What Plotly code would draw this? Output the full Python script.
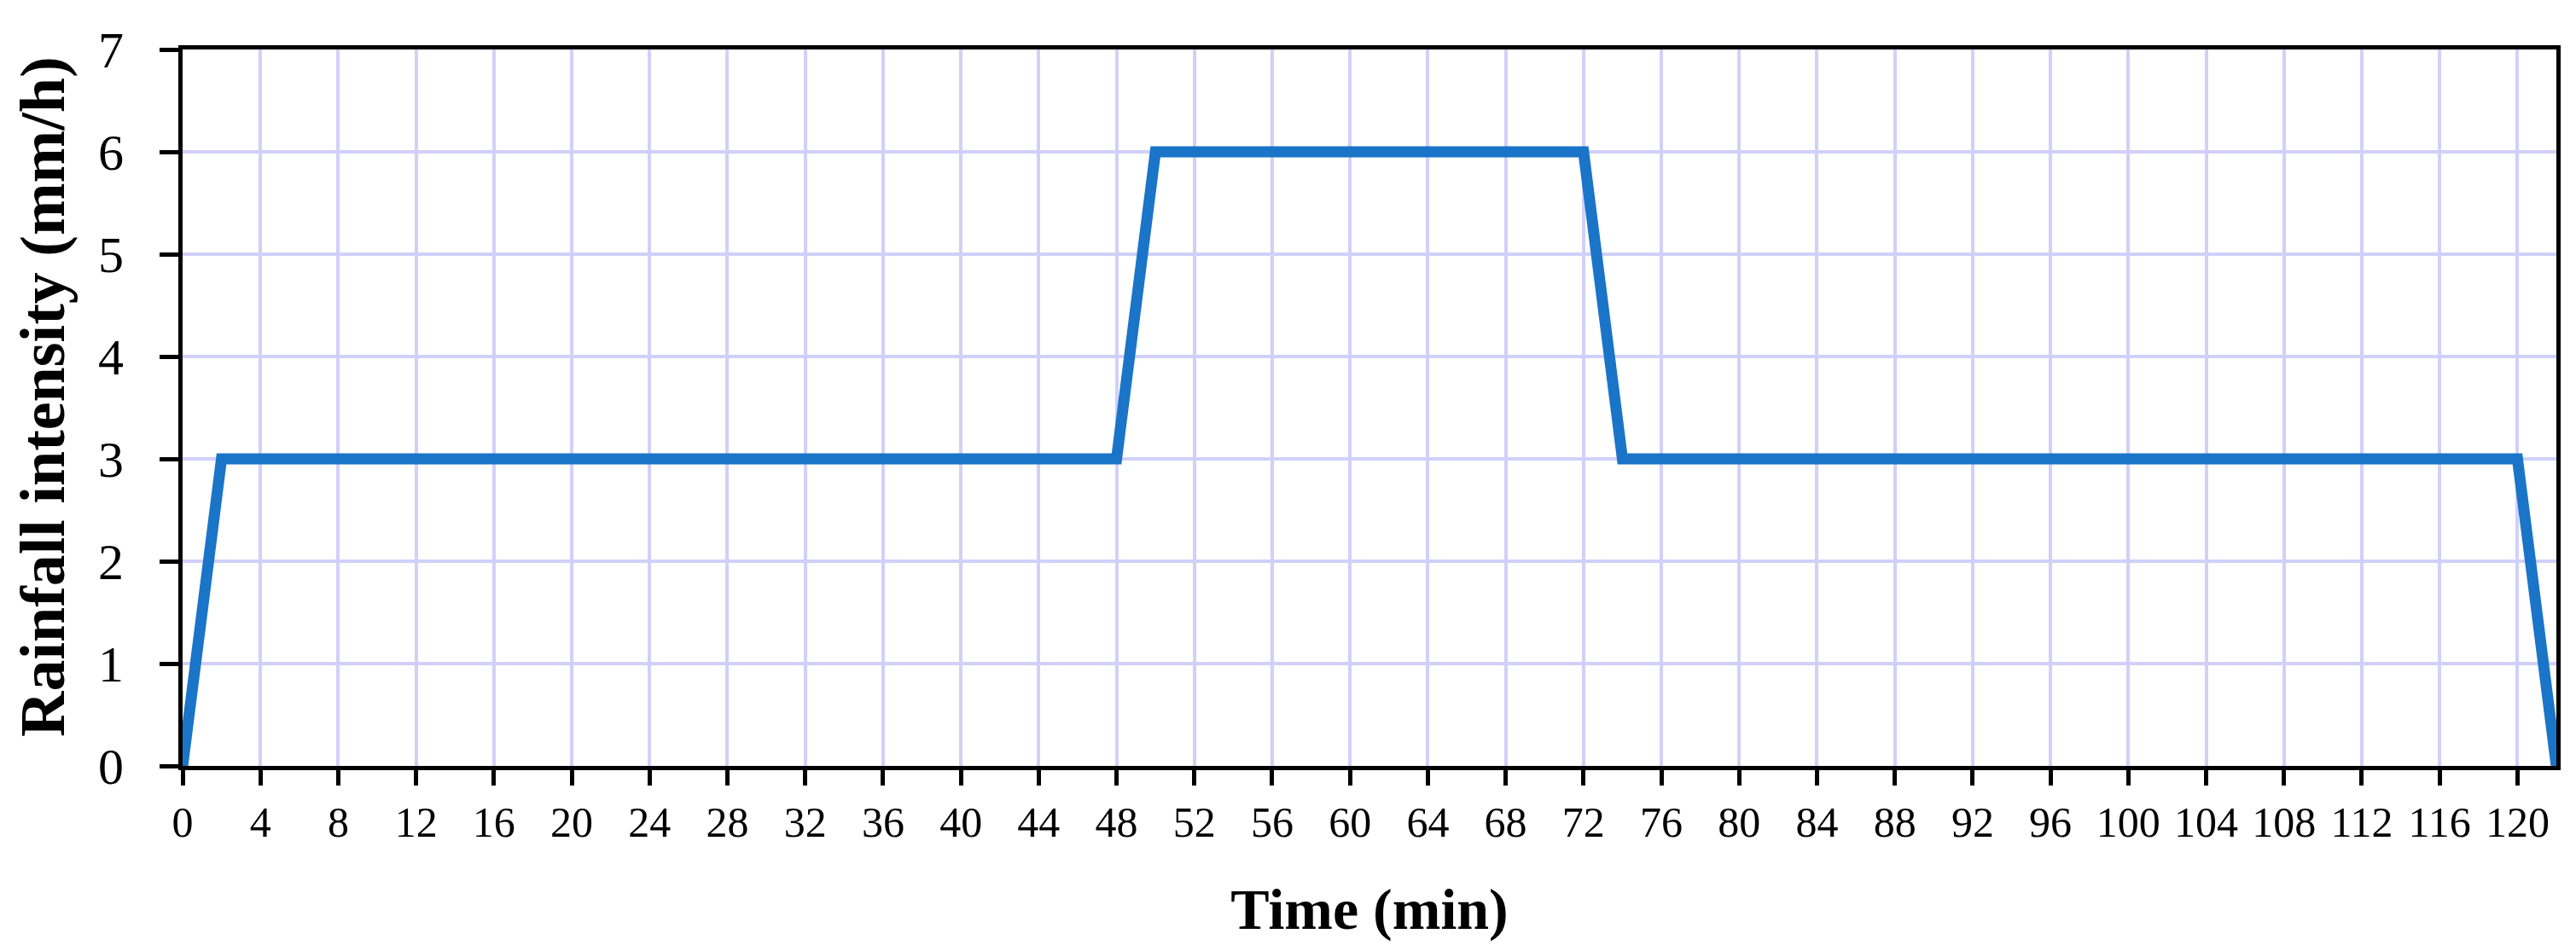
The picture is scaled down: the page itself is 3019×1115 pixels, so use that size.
import plotly.graph_objects as go

# Data
time_min = [0, 2, 48, 50, 72, 74, 120, 122]
intensity = [0, 3, 3, 6, 6, 3, 3, 0]
x_ticks = list(range(0, 121, 4))
y_ticks = list(range(0, 8))

FONT = "Liberation Serif"
GRID = "#D0D0FA"

fig = go.Figure()
fig.add_trace(go.Scatter(
    x=time_min, y=intensity, mode="lines",
    line=dict(color="#1A74C8", width=13),
    showlegend=False, hoverinfo="skip",
))

fig.update_layout(
    width=3019, height=1115,
    margin=dict(l=206, r=31, t=50, b=225),
    paper_bgcolor="white", plot_bgcolor="white",
    font=dict(family=FONT, color="black"),
)

fig.update_xaxes(
    range=[0, 122], tickmode="array", tickvals=x_ticks,
    ticktext=[str(v) for v in x_ticks],
    tickfont=dict(family=FONT, size=50, color="black"),
    ticks="outside", ticklen=18, tickwidth=5, tickcolor="black",
    ticklabelstandoff=0,
    showline=True, linecolor="black", linewidth=5, mirror=True,
    showgrid=True, gridcolor=GRID, gridwidth=4, zeroline=False,
    title=dict(text="<b>Time (min)</b>", font=dict(family=FONT, size=68, color="black"), standoff=52),
)
fig.update_yaxes(
    range=[0, 7], tickmode="array", tickvals=y_ticks,
    ticktext=[str(v) for v in y_ticks],
    tickfont=dict(family=FONT, size=60, color="black"),
    ticks="outside", ticklen=22, tickwidth=5, tickcolor="black",
    ticklabelstandoff=30,
    showline=True, linecolor="black", linewidth=5, mirror=True,
    showgrid=True, gridcolor=GRID, gridwidth=4, zeroline=False,
)

# y-axis title placed as an annotation to match the reference position
fig.add_annotation(
    text="<b>Rainfall intensity (mm/h)</b>",
    xref="paper", yref="paper",
    x=(42 - 206) / 2782, y=(890 - 457) / 840,
    xanchor="center", yanchor="middle", textangle=-90,
    showarrow=False, font=dict(family=FONT, size=74, color="black"),
)

fig.write_html("out.html")
